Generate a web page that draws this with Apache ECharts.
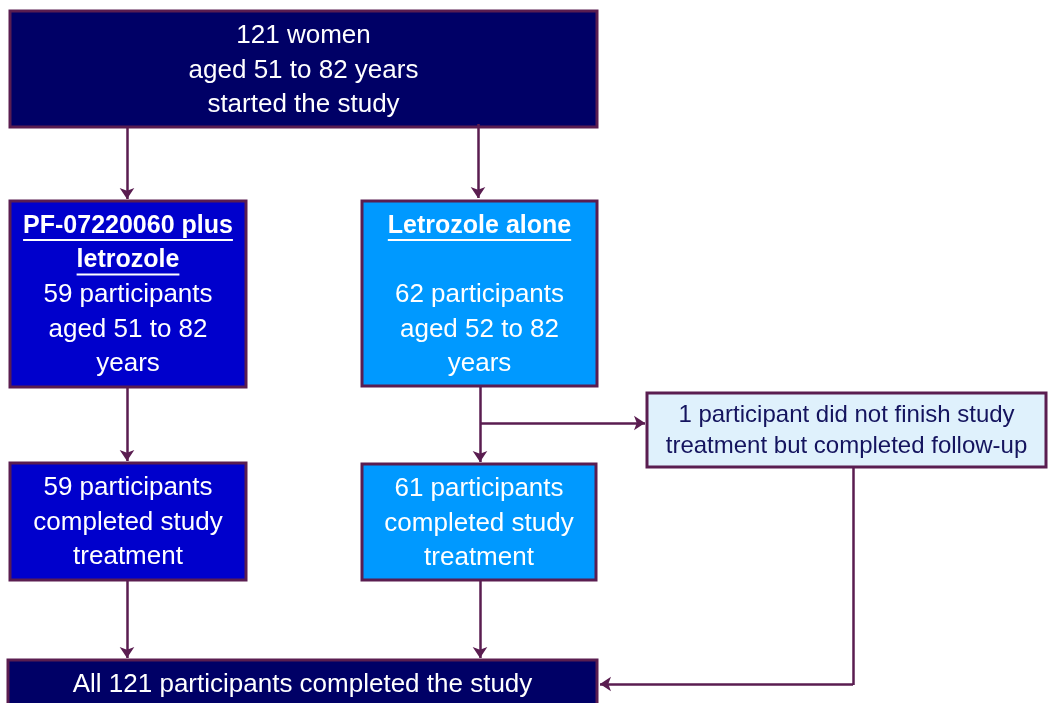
<!DOCTYPE html>
<html>
<head>
    <meta charset="utf-8">
    <title>Study flow</title>
    <script src="https://cdn.jsdelivr.net/npm/echarts@6/dist/echarts.min.js"></script>
    <style>
        html, body { margin: 0; padding: 0; background: #fff; }
        #main { width: 1048px; height: 703px; }
    </style>
</head>
<body>
<div id="main"></div>
<script>
    // box texts (heading lines are underlined + bold)
    var boxNames = ['start', 'armA', 'armB', 'doneA', 'doneB', 'side', 'end'];
    var boxLines = [
        ['121 women', 'aged 51 to 82 years', 'started the study'],
        ['PF-07220060 plus', 'letrozole', '59 participants', 'aged 51 to 82', 'years'],
        ['Letrozole alone', '', '62 participants', 'aged 52 to 82', 'years'],
        ['59 participants', 'completed study', 'treatment'],
        ['61 participants', 'completed study', 'treatment'],
        ['1 participant did not finish study', 'treatment but completed follow-up'],
        ['All 121 participants completed the study']
    ];
    var headingCount = [0, 2, 1, 0, 0, 0, 0];

    // layout: [x0, y0, x1, y1] in the page's pixel frame
    var boxRects = [
        [10, 11, 597, 127],
        [10, 201, 246, 387],
        [362, 201, 597, 386],
        [10, 463, 246, 580],
        [362, 464, 596, 580],
        [647, 393, 1046, 467],
        [8, 660, 597, 720]
    ];
    var boxFill = ['#000066', '#0000cc', '#0099ff', '#0000cc', '#0099ff', '#dff1fc', '#000066'];
    var boxText = ['#fff', '#fff', '#fff', '#fff', '#fff', '#14145e', '#fff'];

    // connectors ending in an arrow head
    var arrows = [
        [[127, 127], [127, 199]],
        [[478, 124], [478, 198]],
        [[127, 387], [127, 461]],
        [[480, 386], [480, 462]],
        [[480, 423], [645, 423]],
        [[853, 684], [600, 684]],
        [[127, 580], [127, 658]],
        [[480, 580], [480, 658]]
    ];
    // plain connector pieces
    var plainLines = [
        [[853, 467], [853, 685]]
    ];

    var edgeColor = '#5a1d50';
    var fontFamily = '"Liberation Sans", Arial, sans-serif';

    var measureCtx = document.createElement('canvas').getContext('2d');
    function textWidth(txt, font) {
        measureCtx.font = font;
        return measureCtx.measureText(txt).width;
    }

    var boxData = boxNames.map(function (n, i) {
        return boxRects[i].concat([i]);
    });

    var chart = echarts.init(document.getElementById('main'));

    var option = {
        animation: false,
        grid: { left: 0, right: 0, top: 0, bottom: 0 },
        xAxis: { type: 'value', min: 0, max: 1048, show: false },
        yAxis: { type: 'value', min: 0, max: 703, inverse: true, show: false },
        series: [
            {
                type: 'custom',
                renderItem: function (params, api) {
                    var i = api.value(4);
                    var p0 = api.coord([api.value(0), api.value(1)]);
                    var p1 = api.coord([api.value(2), api.value(3)]);
                    var isSide = boxNames[i] === 'side';
                    var size = isSide ? 24 : 26;
                    var step = isSide ? 31 : 34.5;
                    var first = isSide ? 22 : 25;
                    var cx = (p0[0] + p1[0]) / 2;
                    var children = [{
                        type: 'rect',
                        shape: { x: p0[0], y: p0[1], width: p1[0] - p0[0], height: p1[1] - p0[1] },
                        style: { fill: boxFill[i], stroke: edgeColor, lineWidth: 3 }
                    }];
                    boxLines[i].forEach(function (t, k) {
                        if (!t) return;
                        var bold = k < headingCount[i];
                        var f = (bold ? 'bold 25px ' : size + 'px ') + fontFamily;
                        var cy = p0[1] + first + k * step;
                        children.push({
                            type: 'text',
                            style: {
                                text: t, x: cx, y: cy,
                                fill: boxText[i],
                                font: f,
                                align: 'center', verticalAlign: 'middle'
                            }
                        });
                        if (bold) {
                            var w = textWidth(t, f);
                            children.push({
                                type: 'line',
                                shape: { x1: cx - w / 2, y1: cy + 14, x2: cx + w / 2, y2: cy + 14 },
                                style: { stroke: boxText[i], lineWidth: 2 }
                            });
                        }
                    });
                    return { type: 'group', children: children };
                },
                data: boxData,
                z: 1
            },
            {
                type: 'lines',
                coordinateSystem: 'cartesian2d',
                symbol: ['none', 'arrow'],
                symbolSize: 11,
                lineStyle: { color: edgeColor, width: 2.5, opacity: 1 },
                data: arrows.map(function (c) { return { coords: c }; }),
                z: 2
            },
            {
                type: 'lines',
                coordinateSystem: 'cartesian2d',
                symbol: 'none',
                lineStyle: { color: edgeColor, width: 2.5, opacity: 1 },
                data: plainLines.map(function (c) { return { coords: c }; }),
                z: 2
            }
        ]
    };
    chart.setOption(option);
</script>
</body>
</html>
